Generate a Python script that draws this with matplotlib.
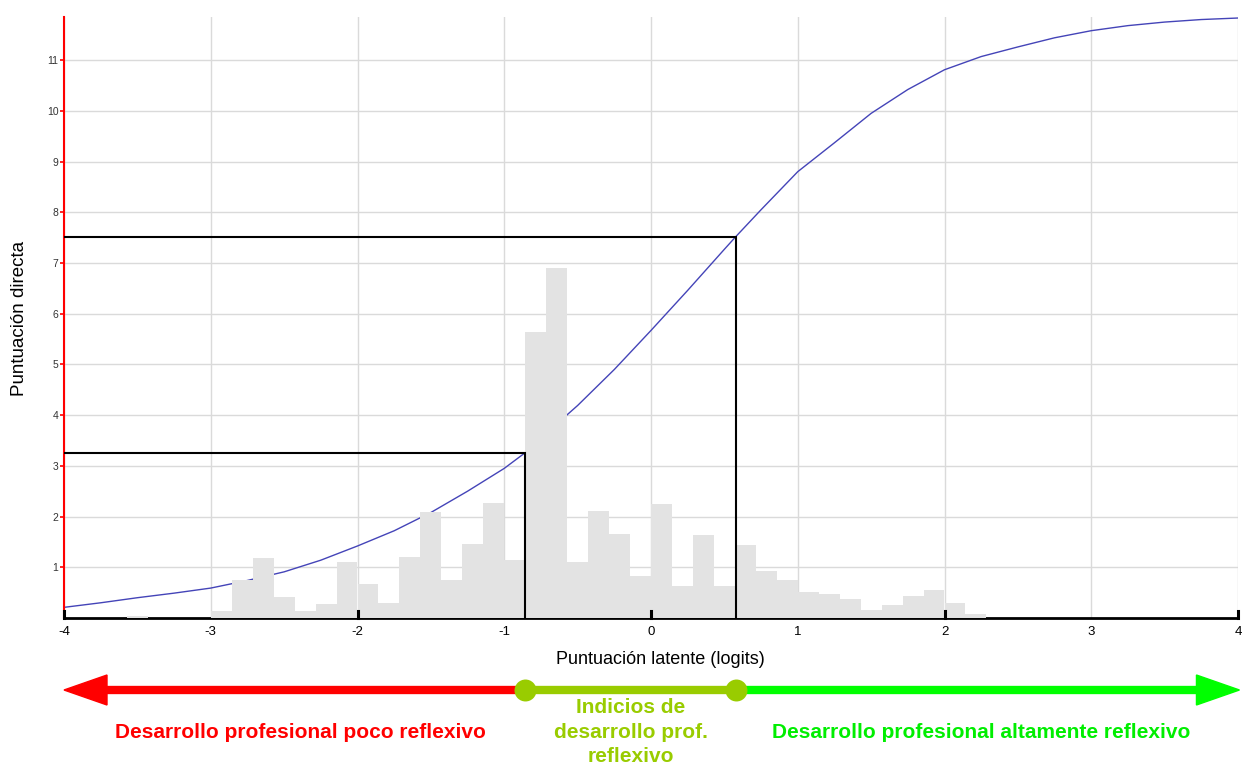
import numpy as np
import matplotlib
matplotlib.use("Agg")
from matplotlib import pyplot as plt
from matplotlib.patches import Polygon

plt.rcParams['font.family'] = ['Liberation Sans', 'DejaVu Sans']

# test characteristic curve (latent score -> expected raw score)
curve_x = [-4, -3.75, -3.5, -3.25, -3, -2.75, -2.5, -2.25, -2, -1.75, -1.5, -1.25,
           -1, -0.857, -0.75, -0.5, -0.25, 0, 0.25, 0.5, 0.578, 0.75, 1, 1.25,
           1.5, 1.75, 2, 2.25, 2.5, 2.75, 3, 3.25, 3.5, 3.75, 4]
curve_y = [0.21, 0.30, 0.40, 0.49, 0.59, 0.74, 0.91, 1.14, 1.42, 1.72, 2.08, 2.50,
           2.95, 3.26, 3.55, 4.19, 4.90, 5.67, 6.46, 7.27, 7.52, 8.05, 8.80, 9.37,
           9.95, 10.42, 10.81, 11.07, 11.26, 11.44, 11.58, 11.68, 11.75, 11.80, 11.83]

# histogram of person measures, bins of 1/7 logit from -4 to 4
bin_start = -4.0
bin_width = 1 / 7
hist_heights = [0, 0, 0, 0.04, 0, 0, 0,
                0.14, 0.75, 1.18, 0.42, 0.14, 0.27, 1.10, 0.68, 0.30, 1.21,
                2.09, 0.74, 1.45, 2.27, 1.14, 5.64, 6.90, 1.10, 2.11, 1.66,
                0.83, 2.25, 0.64, 1.63, 0.64, 1.44, 0.93, 0.75, 0.51, 0.47,
                0.37, 0.16, 0.26, 0.44, 0.55, 0.29, 0.07,
                0, 0, 0, 0, 0, 0, 0, 0, 0, 0, 0, 0]

# cut points (logit, raw score)
cut_x = [-0.857, 0.578]
cut_y = [3.26, 7.52]

x_ticks = [-4, -3, -2, -1, 0, 1, 2, 3, 4]
y_ticks = [1, 2, 3, 4, 5, 6, 7, 8, 9, 10, 11]

zone_labels = ['Desarrollo profesional poco reflexivo',
               'Indicios de\ndesarrollo prof.\nreflexivo',
               'Desarrollo profesional altamente reflexivo']
zone_colors = ['#ff0000', '#99cc00', '#00ff00']

W, H = 1242, 765
fig = plt.figure(figsize=(W / 100, H / 100), dpi=100)
ax = fig.add_axes([64 / W, (H - 618) / H, (1238 - 64) / W, (618 - 17) / H])

lefts = bin_start + np.arange(len(hist_heights)) * bin_width
ax.plot(curve_x, curve_y, color='#4444b8', lw=1, zorder=2)
ax.bar(lefts, hist_heights, width=bin_width, align='edge', color='#e3e3e3',
       linewidth=0, zorder=3)
for cx, cy in zip(cut_x, cut_y):
    ax.plot([cx, cx, -4], [0, cy, cy], color='black', lw=1.5, zorder=4,
            solid_joinstyle='miter')

ax.set_xlim(-4, 4)
ax.set_ylim(0, 11.85)
ax.set_xticks(x_ticks)
ax.set_xticklabels([str(t) for t in x_ticks])
ax.set_yticks(y_ticks)
ax.grid(True, color='#dadada', lw=1, zorder=0)
ax.set_axisbelow(True)
ax.spines['top'].set_visible(False)
ax.spines['right'].set_visible(False)
ax.spines['left'].set_color('red')
ax.spines['left'].set_linewidth(1.5)
ax.spines['bottom'].set_linewidth(2)
ax.tick_params(axis='x', length=0, labelsize=9.5, pad=6)
ax.tick_params(axis='y', length=3, color='red', width=1.2, labelsize=7.5,
               labelcolor='#333333', pad=1)
for t in [-4, -2, 0, 2, 4]:
    ax.plot([t, t], [0, 0.14], color='black', lw=2.2, zorder=5, clip_on=False)

ax.set_xlabel('Puntuación latente (logits)', fontsize=13, labelpad=8)
ax.xaxis.set_label_coords(0.508, -0.055)
fig.text(20 / W, 1 - 318 / H, 'Puntuación directa', rotation=90, fontsize=13.5,
         ha='center', va='center')

# scale of zones under the axis
ax2 = fig.add_axes([64 / W, 0, (1238 - 64) / W, 125 / H])
ax2.set_xlim(-4, 4)
ax2.set_ylim(H, 640)
ax2.axis('off')
px = 8 / 1174  # one pixel in logits
y0 = 690
ax2.plot([-4 + 40 * px, cut_x[0]], [y0, y0], color=zone_colors[0], lw=6,
         solid_capstyle='butt')
ax2.plot([cut_x[1], 4 - 40 * px], [y0, y0], color=zone_colors[2], lw=6,
         solid_capstyle='butt')
ax2.plot(cut_x, [y0, y0], color=zone_colors[1], lw=6, solid_capstyle='butt')
ax2.add_patch(Polygon([[-4, y0], [-4 + 43 * px, y0 - 15], [-4 + 43 * px, y0 + 15]],
                      color=zone_colors[0], clip_on=False))
ax2.add_patch(Polygon([[4.01, y0], [4.01 - 43 * px, y0 - 15], [4.01 - 43 * px, y0 + 15]],
                      color=zone_colors[2], clip_on=False))
for cx in cut_x:
    ax2.scatter([cx], [y0], s=250, color=zone_colors[1], zorder=5, linewidths=0)

ax2.text(-2.39, 732, zone_labels[0], color=zone_colors[0], fontsize=15,
         fontweight='bold', ha='center', va='center')
ax2.text(np.mean(cut_x), 732, zone_labels[1], color=zone_colors[1], fontsize=15,
         fontweight='bold', ha='center', va='center', linespacing=1.38)
ax2.text(2.25, 732, zone_labels[2], color='#00ee00', fontsize=15,
         fontweight='bold', ha='center', va='center')

fig.savefig('out.png', dpi=100)
